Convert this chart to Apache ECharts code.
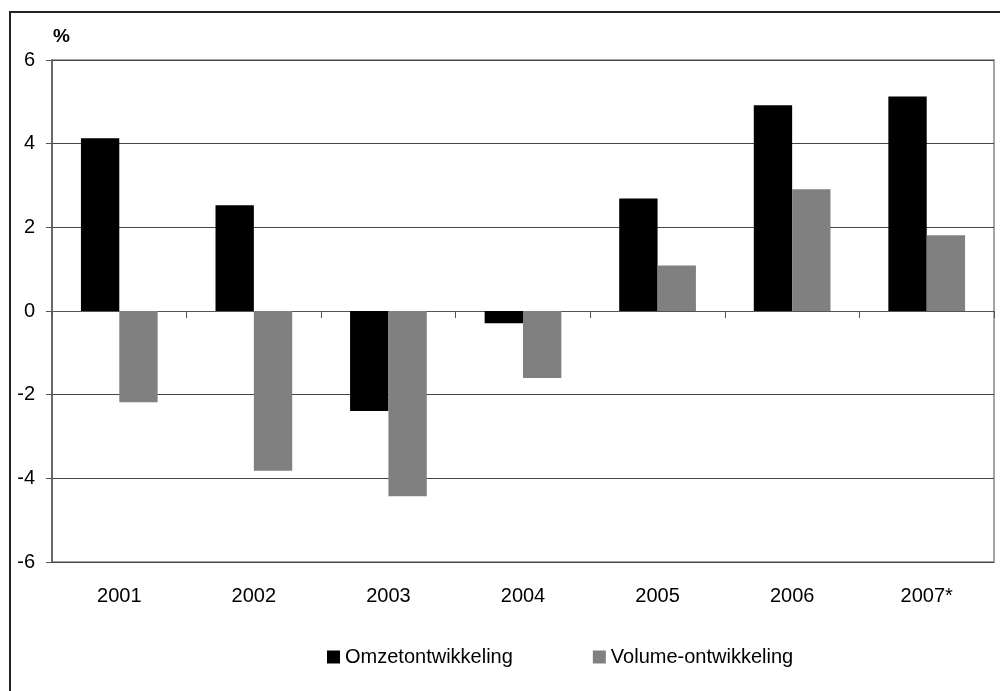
<!DOCTYPE html>
<html lang="nl" style="height: 100%">
<head>
    <meta charset="utf-8">
    <script src="https://cdn.jsdelivr.net/npm/echarts@6/dist/echarts.min.js"></script>
</head>
<body style="height: 100%; margin: 0; background: #fff">
<div id="container" style="width: 1000px; height: 691px"></div>
<script type="text/javascript">
    // jaren (2007 = raming)
    var years = ['2001', '2002', '2003', '2004', '2005', '2006', '2007*'];
    // Omzetontwikkeling in %
    var omzet = [4.13, 2.53, -2.39, -0.29, 2.69, 4.92, 5.13];
    // Volume-ontwikkeling in %
    var volume = [-2.18, -3.82, -4.43, -1.60, 1.09, 2.91, 1.81];
    var seriesNames = ['Omzetontwikkeling', 'Volume-ontwikkeling'];

    var font = 'Liberation Sans, Arial, sans-serif';
    var myChart = echarts.init(document.getElementById('container'));

    var option = {
        backgroundColor: '#fff',
        animation: false,
        textStyle: {fontFamily: font},
        graphic: [
            {   // kader om de hele figuur
                type: 'rect',
                shape: {x: 10, y: 12, width: 1000, height: 700},
                style: {fill: 'none', stroke: '#222', lineWidth: 2},
                silent: true
            },
            {
                type: 'text',
                left: 53, top: 27,
                style: {text: '%', font: 'bold 19px ' + font, fill: '#000'}
            }
        ],
        legend: {
            left: 322,
            top: 642,
            itemWidth: 13,
            itemHeight: 13,
            itemGap: 80,
            icon: 'rect',
            textStyle: {fontSize: 20, color: '#000', fontFamily: font},
            data: seriesNames
        },
        grid: {
            left: 52,
            top: 60,
            right: 6,
            bottom: 129,
            show: true,
            borderColor: '#888',
            borderWidth: 1.5
        },
        xAxis: [
            {   // as op nul met streepjes
                type: 'category',
                data: years,
                axisLine: {onZero: true, lineStyle: {color: '#555', width: 1}},
                axisTick: {show: true, length: 7, lineStyle: {color: '#555'}},
                axisLabel: {show: false}
            },
            {   // labels onderaan
                type: 'category',
                data: years,
                position: 'bottom',
                axisLine: {show: false, onZero: false},
                axisTick: {show: false},
                axisLabel: {margin: 24, fontSize: 20, color: '#000', fontFamily: font}
            }
        ],
        yAxis: {
            type: 'value',
            min: -6,
            max: 6,
            interval: 2,
            axisLine: {show: true, lineStyle: {color: '#555', width: 1.5}},
            axisTick: {show: true, length: 6, lineStyle: {color: '#555'}},
            axisLabel: {margin: 17, fontSize: 20, color: '#000', fontFamily: font},
            splitLine: {lineStyle: {color: '#444', width: 1}}
        },
        series: [
            {
                name: seriesNames[0],
                type: 'bar',
                xAxisIndex: 0,
                data: omzet,
                barGap: '0%',
                barCategoryGap: '43%',
                itemStyle: {color: '#000'}
            },
            {
                name: seriesNames[1],
                type: 'bar',
                xAxisIndex: 0,
                data: volume,
                barGap: '0%',
                barCategoryGap: '43%',
                itemStyle: {color: '#808080'}
            }
        ]
    };

    myChart.setOption(option);
</script>
</body>
</html>
